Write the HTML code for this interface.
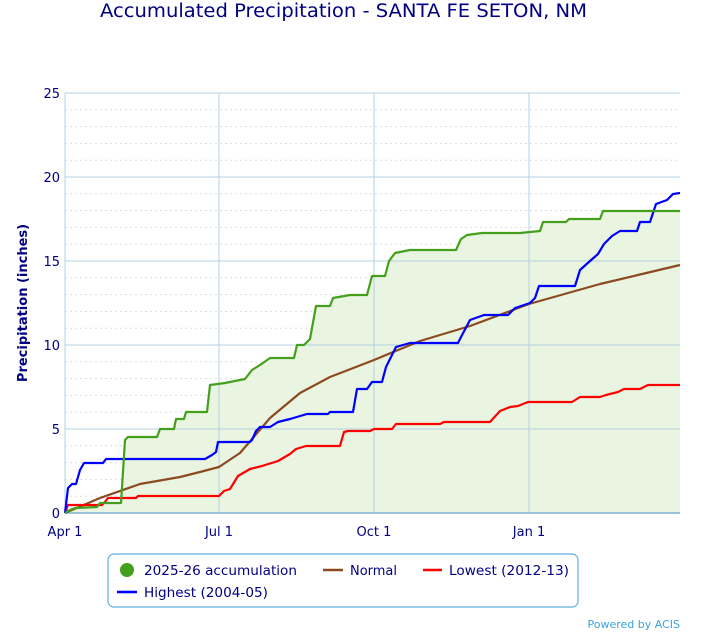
<!DOCTYPE html><html><head><style>body{margin:0;background:#fff;font-family:"DejaVu Sans","Liberation Sans",sans-serif}</style></head><body>
<svg width="703" height="632" xmlns="http://www.w3.org/2000/svg" font-family="DejaVu Sans, Liberation Sans, sans-serif">
<text x="100" y="17" font-size="18.5" fill="#000080" textLength="487" lengthAdjust="spacingAndGlyphs">Accumulated Precipitation - SANTA FE SETON, NM</text>
<g stroke="#ddd" stroke-dasharray="2,3" stroke-width="1">
<line x1="65" x2="680" y1="496.2" y2="496.2"/><line x1="65" x2="680" y1="479.4" y2="479.4"/><line x1="65" x2="680" y1="462.6" y2="462.6"/><line x1="65" x2="680" y1="445.8" y2="445.8"/>
<line x1="65" x2="680" y1="412.2" y2="412.2"/><line x1="65" x2="680" y1="395.4" y2="395.4"/><line x1="65" x2="680" y1="378.6" y2="378.6"/><line x1="65" x2="680" y1="361.8" y2="361.8"/>
<line x1="65" x2="680" y1="328.2" y2="328.2"/><line x1="65" x2="680" y1="311.4" y2="311.4"/><line x1="65" x2="680" y1="294.6" y2="294.6"/><line x1="65" x2="680" y1="277.8" y2="277.8"/>
<line x1="65" x2="680" y1="244.2" y2="244.2"/><line x1="65" x2="680" y1="227.4" y2="227.4"/><line x1="65" x2="680" y1="210.6" y2="210.6"/><line x1="65" x2="680" y1="193.8" y2="193.8"/>
<line x1="65" x2="680" y1="160.2" y2="160.2"/><line x1="65" x2="680" y1="143.4" y2="143.4"/><line x1="65" x2="680" y1="126.6" y2="126.6"/><line x1="65" x2="680" y1="109.8" y2="109.8"/>
</g>
<polygon fill="#e9f4e1" points="65,513 70,510 75,508 97,507 100,503 121,503 125,440 128,437 157,437 160,429 174,429 176,419 184,419 186,412 207,412 210,385 225,383 230,382 245,379 252,370 260,365 270,358 294,358 297,345 304,345 310,339 316,306 330,306 333,298 350,295 367,295 372,276 385,276 389,261 395,253 410,250 456,250 461,239 467,235 482,233 520,233 540,231 543,222 566,222 569,219 600,219 603,211 680,211 680,513"/>
<g stroke="#b5d0e3" stroke-width="1">
<line x1="65" x2="680" y1="93" y2="93"/><line x1="65" x2="680" y1="177" y2="177"/><line x1="65" x2="680" y1="261" y2="261"/><line x1="65" x2="680" y1="345" y2="345"/><line x1="65" x2="680" y1="429" y2="429"/>
<line x1="65" x2="65" y1="93" y2="513"/><line x1="219" x2="219" y1="93" y2="513"/><line x1="374" x2="374" y1="93" y2="513"/><line x1="529" x2="529" y1="93" y2="513"/>
</g>
<line x1="65" x2="680" y1="513" y2="513" stroke="#7fb0d8" stroke-width="1.5"/>
<g fill="none" stroke-width="2.2" stroke-linejoin="round">
<polyline stroke="#8b4a1f" points="65,513 100,498 140,484 180,477 200,472 219,467 240,453 270,418 300,393 330,377 374,360 420,341 470,326 529,304 600,284 680,265"/>
<polyline stroke="#ff0000" points="65,513 68,505 102,505 104,503 108,498 136,498 138,496 219,496 224,491 230,489 238,476 250,469 262,466 278,461 290,454 296,449 306,446 340,446 344,432 348,431 370,431 374,429 392,429 396,424 440,424 444,422 490,422 500,411 510,407 518,406 528,402 572,402 580,397 600,397 606,395 618,392 624,389 640,389 648,385 680,385"/>
<polyline stroke="#0000ff" points="65,513 68,488 72,484 76,484 80,470 84,463 103,463 106,459 205,459 212,455 216,452 218,442 250,442 252,440 256,431 260,427 270,427 278,422 290,419 307,414 328,414 330,412 353,412 357,389 367,389 372,382 382,382 386,367 396,347 410,343 458,343 461,337 470,320 484,315 508,315 515,308 530,303 535,298 539,286 575,286 580,270 590,261 598,254 604,244 612,236 620,231 637,231 640,222 650,222 656,204 667,200 673,194 680,193"/>
<polyline stroke="#44a01c" points="65,513 70,510 75,508 97,507 100,503 121,503 125,440 128,437 157,437 160,429 174,429 176,419 184,419 186,412 207,412 210,385 225,383 230,382 245,379 252,370 260,365 270,358 294,358 297,345 304,345 310,339 316,306 330,306 333,298 350,295 367,295 372,276 385,276 389,261 395,253 410,250 456,250 461,239 467,235 482,233 520,233 540,231 543,222 566,222 569,219 600,219 603,211 680,211"/>
</g>
<g font-size="13" fill="#000080" text-anchor="end">
<text x="60" y="518">0</text><text x="60" y="434">5</text><text x="60" y="350">10</text><text x="60" y="266">15</text><text x="60" y="182">20</text><text x="60" y="98">25</text>
</g>
<g font-size="13" fill="#000080" text-anchor="middle">
<text x="65" y="536">Apr 1</text><text x="219" y="536">Jul 1</text><text x="374" y="536">Oct 1</text><text x="529" y="536">Jan 1</text>
</g>
<text transform="translate(27,303) rotate(-90)" text-anchor="middle" font-size="13" font-weight="bold" fill="#000080">Precipitation (inches)</text>
<rect x="108" y="554" width="470" height="53" rx="6" fill="#fff" stroke="#5fb0e0" stroke-width="1.2"/>
<circle cx="127" cy="570" r="7" fill="#44a01c"/>
<g font-size="13" fill="#000080">
<text x="144" y="575" textLength="153" lengthAdjust="spacingAndGlyphs">2025-26 accumulation</text>
<text x="350" y="575" textLength="47" lengthAdjust="spacingAndGlyphs">Normal</text>
<text x="449" y="575" textLength="120" lengthAdjust="spacingAndGlyphs">Lowest (2012-13)</text>
<text x="144" y="597" textLength="124" lengthAdjust="spacingAndGlyphs">Highest (2004-05)</text>
</g>
<line x1="323" x2="343" y1="570" y2="570" stroke="#8b4a1f" stroke-width="2.5"/>
<line x1="423" x2="442" y1="570" y2="570" stroke="#ff0000" stroke-width="2.5"/>
<line x1="117" x2="137" y1="592" y2="592" stroke="#0000ff" stroke-width="2.5"/>
<text x="680" y="628" text-anchor="end" font-size="11" fill="#3aa0e0">Powered by ACIS</text>
</svg></body></html>
